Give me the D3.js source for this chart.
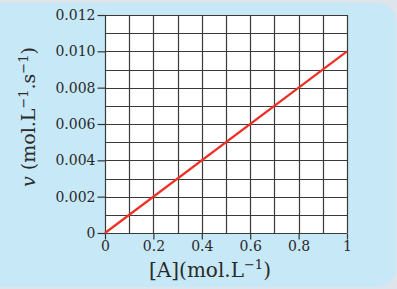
<!DOCTYPE html>
<html><head><meta charset="utf-8">
<script src="https://cdn.jsdelivr.net/npm/d3@7"></script>
<style>html,body{margin:0;padding:0;background:#dde4ec;}svg{display:block;}</style>
</head><body>
<script>
const xTicks = [0, 0.2, 0.4, 0.6, 0.8, 1];
const xTickLabels = ["0", "0.2", "0.4", "0.6", "0.8", "1"];
const yTicks = [0, 0.002, 0.004, 0.006, 0.008, 0.010, 0.012];
const yTickLabels = ["0", "0.002", "0.004", "0.006", "0.008", "0.010", "0.012"];
const xGrid = [0,0.1,0.2,0.3,0.4,0.5,0.6,0.7,0.8,0.9,1];
const yGrid = [0,0.001,0.002,0.003,0.004,0.005,0.006,0.007,0.008,0.009,0.010,0.011,0.012];
const conc = [0, 1];
const rate = [0, 0.010];

const W = 397, H = 289;
const svg = d3.select("body").append("svg").attr("width", W).attr("height", H);
svg.append("rect").attr("x", 0).attr("y", 0).attr("width", W).attr("height", H).attr("fill", "#dde4ec");
svg.append("rect").attr("x", -20).attr("y", 3).attr("width", 416).attr("height", 284).attr("rx", 20).attr("fill", "#c6e8f7");

const x = d3.scaleLinear().domain([0, 1]).range([105, 347]);
const y = d3.scaleLinear().domain([0, 0.012]).range([233, 15]);
const font = "DejaVu Serif";

svg.append("rect").attr("x", x(0)).attr("y", y(0.012)).attr("width", x(1) - x(0)).attr("height", y(0) - y(0.012)).attr("fill", "#ffffff");

const g = svg.append("g");
g.selectAll(".vg").data(xGrid).enter().append("line")
  .attr("x1", d => Math.round(x(d)) + 0.5).attr("x2", d => Math.round(x(d)) + 0.5)
  .attr("y1", y(0.012)).attr("y2", y(0))
  .attr("stroke", "#3a3a3a").attr("stroke-width", 1.2);
g.selectAll(".hg").data(yGrid).enter().append("line")
  .attr("y1", d => Math.round(y(d)) + 0.5).attr("y2", d => Math.round(y(d)) + 0.5)
  .attr("x1", x(0)).attr("x2", x(1))
  .attr("stroke", "#3a3a3a").attr("stroke-width", 1.2);

// axes
const xAxis = d3.axisBottom(x).tickValues(xTicks).tickFormat((d, i) => xTickLabels[i]).tickSize(6).tickPadding(2);
const yAxis = d3.axisLeft(y).tickValues(yTicks).tickFormat((d, i) => yTickLabels[i]).tickSize(8).tickPadding(2);
const gx = svg.append("g").attr("transform", `translate(0,${Math.round(y(0)) + 0.5})`).call(xAxis);
const gy = svg.append("g").attr("transform", `translate(${Math.round(x(0)) + 0.5},0)`).call(yAxis);
[gx, gy].forEach(a => {
  a.attr("font-family", font).attr("font-size", 14);
  a.select(".domain").remove();
  a.selectAll(".tick line").attr("stroke", "#333").attr("stroke-width", 1.2);
  a.selectAll(".tick text").style("font-family", font).style("font-size", "14px").attr("fill", "#2a2a2a");
});

// line
const line = d3.line().x((d, i) => x(conc[i])).y(d => y(d));
svg.append("path").datum(rate).attr("d", line).attr("fill", "none").attr("stroke", "#ee2f24").attr("stroke-width", 2.2);

// labels
svg.append("text").attr("x", 210).attr("y", 277).attr("text-anchor", "middle")
  .style("font-family", font).style("font-size", "20px").attr("fill", "#2a2a2a")
  .html('[A](mol.L<tspan dy="-8" font-size="13">−1</tspan><tspan dy="8">)</tspan>');
svg.append("text").attr("transform", "translate(35,117) rotate(-90)").attr("text-anchor", "middle")
  .style("font-family", font).style("font-size", "19px").attr("fill", "#2a2a2a")
  .html('<tspan font-style="italic">v</tspan> (mol.L<tspan dy="-7" font-size="13">−1</tspan><tspan dy="7">.s</tspan><tspan dy="-7" font-size="13">−1</tspan><tspan dy="7">)</tspan>');
</script>
</body></html>
